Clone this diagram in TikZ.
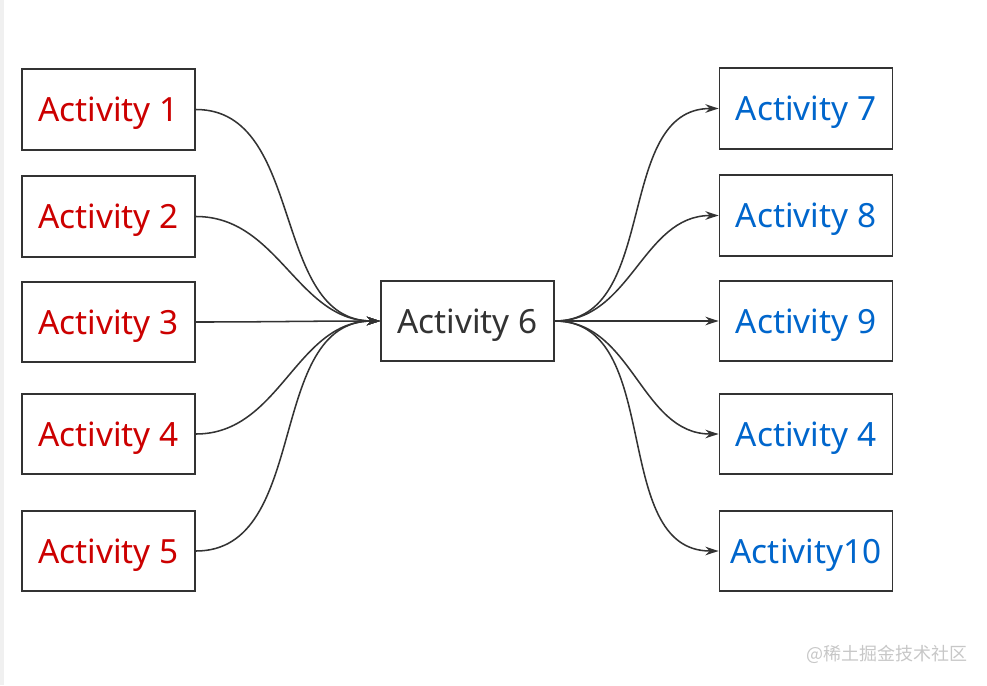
\documentclass[tikz,border=0pt]{standalone}
\usepackage{fontspec}
\setmainfont{Noto Sans}
\newfontfamily\cjkfont{Noto Sans CJK SC}
\usetikzlibrary{arrows.meta,positioning}
\definecolor{actred}{HTML}{CC0000}
\definecolor{actblue}{HTML}{0066CC}
\definecolor{actgray}{HTML}{333333}
\tikzset{
	flowstyle/.style={
		>={Stealth[length=10pt,width=6.5pt]},
		line width=1.15pt,
		color=actgray,
		x=0.75pt, y=-0.75pt}}

\begin{document}
\begin{tikzpicture}[flowstyle,
	actbox/.style={draw=actgray, line width=1.4pt, fill=white, inner sep=0pt,
		minimum width=129.75pt, minimum height=60.5pt,
		text height=18pt, text depth=0pt,
		font=\fontsize{25}{30}\selectfont},
	inbox/.style={actbox, text=actred},
	outbox/.style={actbox, text=actblue},
	]
	\useasboundingbox (0,0) rectangle (987,685);
	\fill[black!6] (0,0) rectangle (4,685);

	% sources
	\node[inbox] (l1) at (108.5, 109.5) {Activity 1};
	\node[inbox] (l2) at (108.5, 216.5) {Activity 2};
	\node[inbox] (l3) at (108.5, 322) {Activity 3};
	\node[inbox] (l4) at (108.5, 434) {Activity 4};
	\node[inbox] (l5) at (108.5, 551) {Activity 5};

	\node[actbox, text=actgray] (mid) at (467.5, 321) {Activity 6};

	% targets
	\node[outbox] (r1) at (806, 108.5) {Activity 7};
	\node[outbox] (r2) at (806, 215.5) {Activity 8};
	\node[outbox] (r3) at (806, 321) {Activity 9};
	\node[outbox] (r4) at (806, 434) {Activity 4};
	\node[outbox] (r5) at (806, 551) {Activity10};

	\draw[->] (l1) edge[out=0, in=180] (mid);
	\draw[->] (l2) edge[out=0, in=180] (mid);
	\draw[->] (l3) edge[out=0, in=180] (mid);
	\draw[->] (l4) edge[out=0, in=180] (mid);
	\draw[->] (l5) edge[out=0, in=180] (mid);

	\draw[->] (mid) edge[out=0, in=180] (r1);
	\draw[->] (mid) edge[out=0, in=180] (r2);
	\draw[->] (mid) edge[out=0, in=180] (r3);
	\draw[->] (mid) edge[out=0, in=180] (r4);
	\draw[->] (mid) edge[out=0, in=180] (r5);

	\node[text=black!22, font=\cjkfont\fontsize{13.5}{16}\selectfont] (mark) at (887, 654) {@稀土掘金技术社区};

\end{tikzpicture}
\end{document}
